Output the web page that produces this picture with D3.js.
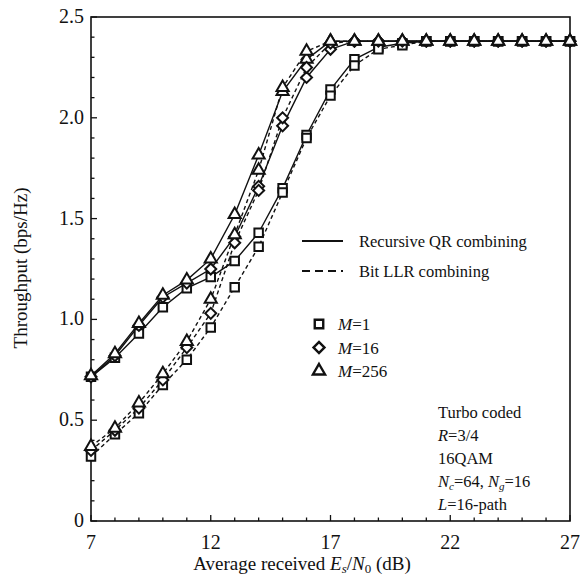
<!DOCTYPE html>
<html><head><meta charset="utf-8">
<script src="https://cdn.jsdelivr.net/npm/d3@7"></script>
<style>body{margin:0;background:#fff}svg text{font-family:"Liberation Serif","Times New Roman",serif;fill:#111}</style>
</head><body><svg id="c" width="580" height="578"></svg>
<script>
const snr = d3.range(7, 28);
// Recursive QR combining (solid)
const qrM1   = [0.715,0.81,0.93,1.06,1.155,1.21,1.29,1.43,1.65,1.915,2.14,2.29,2.35,2.37,2.38,2.38,2.38,2.38,2.38,2.38,2.38];
const qrM16  = [0.715,0.82,0.97,1.11,1.18,1.25,1.41,1.66,1.96,2.20,2.34,2.38,2.38,2.38,2.38,2.38,2.38,2.38,2.38,2.38,2.38];
const qrM256 = [0.72,0.83,0.98,1.12,1.195,1.30,1.52,1.815,2.13,2.29,2.38,2.38,2.38,2.38,2.38,2.38,2.38,2.38,2.38,2.38,2.38];
// Bit LLR combining (dashed)
const llrM1   = [0.32,0.43,0.535,0.675,0.80,0.96,1.16,1.36,1.63,1.90,2.11,2.26,2.34,2.36,2.38,2.38,2.38,2.38,2.38,2.38,2.38];
const llrM16  = [0.35,0.45,0.56,0.70,0.86,1.03,1.38,1.64,2.00,2.25,2.37,2.38,2.38,2.38,2.38,2.38,2.38,2.38,2.38,2.38,2.38];
const llrM256 = [0.37,0.46,0.585,0.73,0.89,1.10,1.42,1.74,2.15,2.33,2.38,2.38,2.38,2.38,2.38,2.38,2.38,2.38,2.38,2.38,2.38];
const xTicks = [7,12,17,22,27];
const yTicks = [0,0.5,1.0,1.5,2.0,2.5];
const yTickLabels = ["0","0.5","1.0","1.5","2.0","2.5"];
const series = [
  {v: qrM1, sym: "square", dash: false},
  {v: qrM16, sym: "diamond", dash: false},
  {v: qrM256, sym: "triangle", dash: false},
  {v: llrM1, sym: "square", dash: true},
  {v: llrM16, sym: "diamond", dash: true},
  {v: llrM256, sym: "triangle", dash: true}
];

const svg = d3.select("#c");
const L = 91, R = 570, T = 17, B = 521;
const x = d3.scaleLinear().domain([7,27]).range([L,R]);
const y = d3.scaleLinear().domain([0,2.5]).range([B,T]);

const symMap = {square: d3.symbolSquare, diamond: d3.symbolSquare, triangle: d3.symbolTriangle};
const symSize = {square: 72, diamond: 60, triangle: 64};
const symRot = {square: 0, diamond: 45, triangle: 0};
function sym(s){ return d3.symbol().type(symMap[s]).size(symSize[s])(); }

// frame
svg.append("rect").attr("x",L).attr("y",T).attr("width",R-L).attr("height",B-T)
  .attr("fill","none").attr("stroke","#111").attr("stroke-width",1.6);

// ticks
const g = svg.append("g").attr("stroke","#111").attr("stroke-width",1.3);
d3.range(7,28).forEach(v=>{
  const maj = xTicks.includes(v);
  const len = maj?6:3.5;
  g.append("line").attr("x1",x(v)).attr("x2",x(v)).attr("y1",B).attr("y2",B-len);
});
d3.range(0,26).forEach(i=>{
  const v = i/10;
  const maj = i%5===0;
  const len = maj?6:3.5;
  g.append("line").attr("x1",L).attr("x2",L+len).attr("y1",y(v)).attr("y2",y(v));
});

// tick labels
xTicks.forEach(v=>{
  svg.append("text").attr("x",x(v)).attr("y",B+28).attr("text-anchor","middle")
    .attr("font-size",20).text(v);
});
yTicks.forEach((v,i)=>{
  svg.append("text").attr("x",L-7).attr("y",y(v)+6).attr("text-anchor","end")
    .attr("font-size",20).text(yTickLabels[i]);
});

// axis titles
const xt = svg.append("text").attr("x",302).attr("y",570).attr("text-anchor","middle").attr("font-size",19);
xt.append("tspan").text("Average received ");
xt.append("tspan").attr("font-style","italic").text("E");
xt.append("tspan").attr("font-size",13).attr("dy",3).attr("font-style","italic").text("s");
xt.append("tspan").attr("dy",-3).text("/");
xt.append("tspan").attr("font-style","italic").text("N");
xt.append("tspan").attr("font-size",13).attr("dy",3).text("0");
xt.append("tspan").attr("dy",-3).text(" (dB)");

svg.append("text").attr("transform","translate(27,268) rotate(-90)").attr("text-anchor","middle")
  .attr("font-size",19).text("Throughput (bps/Hz)");

// lines
const line = d3.line().x((d,i)=>x(snr[i])).y(d=>y(d));
const plot = svg.append("g");
series.forEach(s=>{
  plot.append("path").attr("d",line(s.v)).attr("fill","none").attr("stroke","#111")
    .attr("stroke-width",1.4).attr("stroke-dasharray",s.dash?"4,3":null);
});
series.forEach(s=>{
  plot.selectAll(null).data(s.v).enter().append("path")
    .attr("d",sym(s.sym))
    .attr("transform",(d,i)=>`translate(${x(snr[i])},${y(d)}) rotate(${symRot[s.sym]})`)
    .attr("fill","#fff").attr("stroke","#111").attr("stroke-width",2);
});

// legend lines
svg.append("line").attr("x1",302).attr("x2",343).attr("y1",241).attr("y2",241).attr("stroke","#111").attr("stroke-width",2);
svg.append("text").attr("x",359).attr("y",247).attr("font-size",16.5).text("Recursive QR combining");
svg.append("line").attr("x1",302).attr("x2",343).attr("y1",271).attr("y2",271).attr("stroke","#111").attr("stroke-width",2).attr("stroke-dasharray","8,5");
svg.append("text").attr("x",359).attr("y",277).attr("font-size",16.5).text("Bit LLR combining");

// legend markers
const legM = [["square","1"],["diamond","16"],["triangle","256"]];
legM.forEach((m,i)=>{
  const yy = 324 + i*23.5;
  svg.append("path").attr("d",sym(m[0])).attr("transform",`translate(319,${yy}) rotate(${symRot[m[0]]})`)
    .attr("fill","#fff").attr("stroke","#111").attr("stroke-width",2.4);
  const t = svg.append("text").attr("x",338).attr("y",yy+6).attr("font-size",17);
  t.append("tspan").attr("font-style","italic").text("M");
  t.append("tspan").text("=" + m[1]);
});

// annotation
const ax = 438;
const ann = [412,435,458,481,504];
svg.append("text").attr("x",ax).attr("y",ann[0]+6).attr("font-size",16.5).text("Turbo coded");
let t2 = svg.append("text").attr("x",ax).attr("y",ann[1]+6).attr("font-size",16.5);
t2.append("tspan").attr("font-style","italic").text("R");
t2.append("tspan").text("=3/4");
svg.append("text").attr("x",ax).attr("y",ann[2]+6).attr("font-size",16.5).text("16QAM");
let t4 = svg.append("text").attr("x",ax).attr("y",ann[3]+6).attr("font-size",16.5);
t4.append("tspan").attr("font-style","italic").text("N");
t4.append("tspan").attr("font-style","italic").attr("font-size",11).attr("dy",3).text("c");
t4.append("tspan").attr("dy",-3).text("=64, ");
t4.append("tspan").attr("font-style","italic").text("N");
t4.append("tspan").attr("font-style","italic").attr("font-size",11).attr("dy",3).text("g");
t4.append("tspan").attr("dy",-3).text("=16");
let t5 = svg.append("text").attr("x",ax).attr("y",ann[4]+6).attr("font-size",16.5);
t5.append("tspan").attr("font-style","italic").text("L");
t5.append("tspan").text("=16-path");
</script></body></html>
